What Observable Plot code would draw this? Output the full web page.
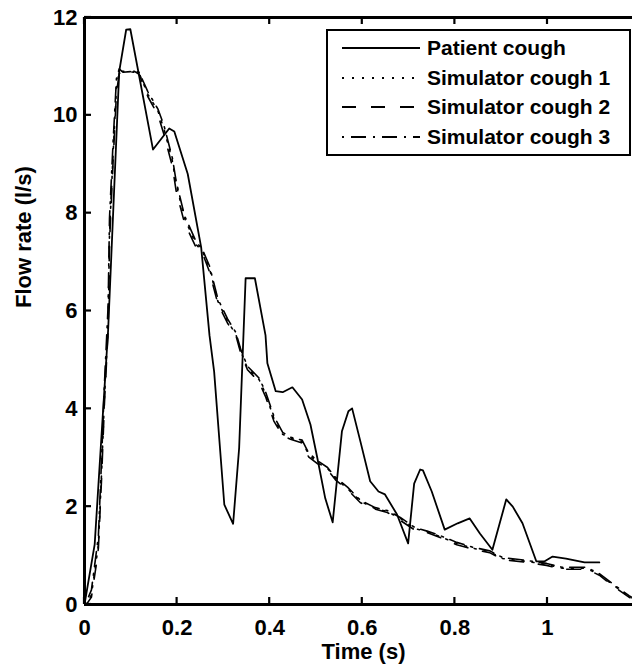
<!DOCTYPE html>
<html><head><meta charset="utf-8">
<script src="https://cdn.jsdelivr.net/npm/d3@7"></script>
<script src="https://cdn.jsdelivr.net/npm/@observablehq/plot@0.6"></script>
<style>html,body{margin:0;padding:0;background:#fff;overflow:hidden}</style>
</head><body><div id="chart"></div>
<script>
const seriesNames = ["Patient cough", "Simulator cough 1", "Simulator cough 2", "Simulator cough 3"];
const seriesDash = [null, "2,8", "14,15", "2,7,15,7"];

const tPatient = [0, 0.022, 0.051, 0.075, 0.09, 0.099, 0.148, 0.183, 0.194, 0.223, 0.252, 0.27, 0.28, 0.302, 0.321, 0.334, 0.348, 0.368, 0.391, 0.395, 0.413, 0.428, 0.449, 0.47, 0.488, 0.503, 0.52, 0.536, 0.556, 0.57, 0.578, 0.596, 0.617, 0.635, 0.649, 0.675, 0.699, 0.712, 0.725, 0.731, 0.75, 0.778, 0.806, 0.832, 0.854, 0.881, 0.911, 0.925, 0.946, 0.976, 0.993, 1.011, 1.04, 1.08, 1.112];
const fPatient = [0, 1.23, 5.6, 10.9, 11.75, 11.76, 9.3, 9.73, 9.67, 8.8, 7.3, 5.5, 4.76, 2.04, 1.65, 3.2, 6.67, 6.67, 5.5, 4.93, 4.36, 4.34, 4.44, 4.19, 3.68, 2.99, 2.17, 1.68, 3.54, 3.95, 4.01, 3.33, 2.52, 2.31, 2.25, 1.84, 1.25, 2.47, 2.76, 2.74, 2.31, 1.53, 1.66, 1.76, 1.45, 1.12, 2.15, 2.0, 1.66, 0.88, 0.88, 0.98, 0.94, 0.86, 0.86];

const tSim = [0, 0.004, 0.015, 0.026, 0.03, 0.037, 0.043, 0.051, 0.054, 0.062, 0.069, 0.075, 0.083, 0.108, 0.118, 0.137, 0.159, 0.172, 0.19, 0.198, 0.216, 0.241, 0.255, 0.27, 0.288, 0.309, 0.327, 0.338, 0.352, 0.377, 0.391, 0.409, 0.428, 0.445, 0.47, 0.484, 0.503, 0.525, 0.542, 0.568, 0.596, 0.628, 0.654, 0.682, 0.714, 0.74, 0.768, 0.804, 0.839, 0.875, 0.903, 0.955, 0.998, 1.032, 1.084, 1.112, 1.14, 1.176, 1.2];
const fSim1 = [0, 0, 0.2, 0.94, 1.22, 2.72, 4.2, 5.7, 7.57, 9.26, 10.55, 10.9, 10.9, 10.88, 10.86, 10.43, 10.08, 9.71, 9.06, 8.59, 7.9, 7.36, 7.22, 6.87, 6.2, 5.79, 5.52, 5.17, 4.83, 4.6, 4.31, 3.8, 3.48, 3.4, 3.33, 3.07, 2.9, 2.78, 2.58, 2.37, 2.11, 1.96, 1.9, 1.76, 1.55, 1.49, 1.39, 1.25, 1.15, 1.08, 0.94, 0.88, 0.82, 0.74, 0.74, 0.61, 0.41, 0.16, 0.05];
const fSim2 = [0, 0, 0.15, 0.85, 1.15, 2.6, 4.1, 5.6, 7.4, 9.1, 10.45, 10.85, 10.92, 10.9, 10.84, 10.38, 10.0, 9.6, 8.95, 8.45, 7.8, 7.3, 7.18, 6.8, 6.15, 5.75, 5.5, 5.12, 4.8, 4.55, 4.25, 3.75, 3.45, 3.38, 3.3, 3.02, 2.88, 2.75, 2.55, 2.35, 2.08, 1.95, 1.88, 1.72, 1.52, 1.47, 1.37, 1.22, 1.13, 1.06, 0.92, 0.86, 0.8, 0.72, 0.72, 0.6, 0.39, 0.15, 0.05];
const fSim3 = [0, 0.05, 0.3, 1.1, 1.4, 3.0, 4.5, 6.1, 7.9, 9.5, 10.75, 10.95, 10.88, 10.9, 10.88, 10.48, 10.12, 9.78, 9.12, 8.65, 7.95, 7.42, 7.25, 6.92, 6.25, 5.84, 5.56, 5.2, 4.87, 4.63, 4.35, 3.85, 3.52, 3.42, 3.36, 3.1, 2.94, 2.8, 2.6, 2.4, 2.13, 1.98, 1.92, 1.78, 1.57, 1.5, 1.41, 1.27, 1.17, 1.1, 0.96, 0.9, 0.84, 0.76, 0.76, 0.63, 0.43, 0.18, 0.06];

const xTicks = [0, 0.2, 0.4, 0.6, 0.8, 1];
const xTickLabels = ["0", "0.2", "0.4", "0.6", "0.8", "1"];
const yTicks = [0, 2, 4, 6, 8, 10, 12];
const yTickLabels = ["0", "2", "4", "6", "8", "10", "12"];
const xLabel = "Time (s)";
const yLabel = "Flow rate (l/s)";

const patientRows = tPatient.map((t, i) => ({t, f: fPatient[i]}));
const simSets = [fSim1, fSim2, fSim3].map(arr => tSim.map((t, i) => ({t, f: arr[i]})));

const FONT = "'Liberation Sans', Arial, Helvetica, sans-serif";
const yMin = yTicks[0], yMax = yTicks[yTicks.length - 1];

const chart = Plot.plot({
  width: 632,
  height: 672,
  marginLeft: 84,
  marginRight: 0,
  marginTop: 17,
  marginBottom: 68,
  style: {fontFamily: FONT, fontWeight: "bold", fontSize: "22px", color: "black", background: "white"},
  x: {domain: [0, 1.1836]},
  y: {domain: [yMin, yMax]},
  marks: [
    ...simSets.map((rows, k) => Plot.line(rows, {x: "t", y: "f", stroke: "black", strokeWidth: 1.6, strokeDasharray: seriesDash[k + 1], clip: true})),
    Plot.line(patientRows, {x: "t", y: "f", stroke: "black", strokeWidth: 1.8, clip: true}),
    // axes box
    Plot.ruleY([yMin, yMax], {stroke: "black", strokeWidth: 3}),
    Plot.ruleX([0], {stroke: "black", strokeWidth: 3}),
    Plot.axisX({anchor: "bottom", ticks: xTicks, tickSize: 0, tickPadding: 15, tickFormat: d => xTickLabels[xTicks.indexOf(d)], label: null, fontSize: 22}),
    Plot.axisY({anchor: "left", ticks: yTicks, tickSize: 0, tickPadding: 7, tickFormat: d => yTickLabels[yTicks.indexOf(d)], label: null, fontSize: 22}),
    Plot.text([xLabel], {frameAnchor: "bottom", dx: 5, dy: 54, fontSize: 22, fontWeight: "bold"}),
    Plot.text([yLabel], {frameAnchor: "left", rotate: -90, dx: -61, dy: -3, fontSize: 22, fontWeight: "bold"})
  ]
});
document.getElementById("chart").appendChild(chart);

const svg = d3.select(chart);
const xs = chart.scale("x"), ys = chart.scale("y");
const TL = 7; // inward tick length (MATLAB style)
const tg = svg.append("g").attr("stroke", "black").attr("stroke-width", 2.2);
xTicks.forEach(v => {
  const px = xs.apply(v), yb = ys.apply(yMin), yt = ys.apply(yMax);
  tg.append("line").attr("x1", px).attr("x2", px).attr("y1", yb).attr("y2", yb - TL);
  tg.append("line").attr("x1", px).attr("x2", px).attr("y1", yt).attr("y2", yt + TL);
});
yTicks.forEach(v => {
  const py = ys.apply(v), xl = xs.apply(0);
  tg.append("line").attr("x1", xl).attr("x2", xl + TL).attr("y1", py).attr("y2", py);
});

// Legend box (MATLAB style, inside top-right of axes)
const lg = svg.append("g").attr("font-family", FONT).attr("font-weight", "bold").attr("text-anchor", "start");
lg.append("rect").attr("x", 327).attr("y", 30).attr("width", 303).attr("height", 125)
  .attr("fill", "white").attr("stroke", "black").attr("stroke-width", 2);
const rowY = [48, 78, 107, 137];
seriesNames.forEach((name, i) => {
  lg.append("line").attr("x1", 342).attr("x2", 420).attr("y1", rowY[i]).attr("y2", rowY[i])
    .attr("stroke", "black").attr("stroke-width", 2)
    .attr("stroke-dasharray", seriesDash[i]);
  lg.append("text").attr("x", 427).attr("y", rowY[i] + 7).attr("font-size", 21)
    .attr("text-anchor", "start").attr("fill", "black").text(name);
});
</script>
</body></html>
